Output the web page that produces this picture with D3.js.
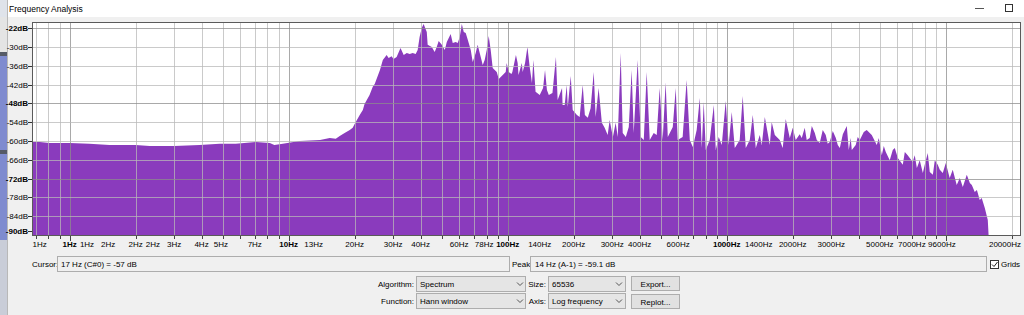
<!DOCTYPE html>
<html>
<head>
<meta charset="utf-8">
<script src="https://cdnjs.cloudflare.com/ajax/libs/d3/7.8.5/d3.min.js"></script>
<style>
  body { margin: 0; background: #f0f0f0; }
  svg { display: block; font-family: "Liberation Sans", Arial, sans-serif; }
</style>
</head>
<body>
<svg width="1024" height="315"></svg>
<script>
// Spectrum: frequency (Hz) and level (dB)
const freqHz = [0.67, 0.73, 0.81, 1.0, 1.23, 1.52, 2.0, 2.32, 3.0, 3.92, 4.84, 5.73, 7.07, 8.2, 8.6, 9.4, 11.2, 13.9, 15.4, 16.4,
  17.1, 18.0, 19.0, 19.6, 20.0, 21.1, 21.8, 22.2, 23.4, 24.2, 24.7, 26.1, 26.9, 28.0, 28.6, 29.5, 30.1, 31.1, 32.4, 33.5,
  34.6, 35.7, 36.8, 38.0, 38.8, 39.6, 40.5, 41.3, 42.7, 43.1, 45.0, 46.4, 47.4, 48.4, 50.0, 51.6, 52.7, 54.9, 56.1, 57.9,
  59.1, 60.4, 61.7, 63.0, 64.3, 65.7, 67.8, 69.2, 71.4, 72.9, 74.5, 76.9, 78.5, 80.2, 81.9, 83.6, 85.4, 89.1, 91.0, 94.9,
  97.9, 98.9, 101, 104, 105, 109, 111, 112, 116, 117, 120, 123, 126, 129, 131, 134, 140, 145, 148, 151,
  154, 160, 166, 169, 177, 178, 182, 186, 188, 194, 198, 207, 213, 220, 225, 232, 239, 247, 252, 260,
  269, 277, 286, 292, 302, 311, 318, 328, 335, 346, 357, 368, 376, 392, 405, 418, 431, 445, 464, 479,
  494, 510, 526, 538, 567, 585, 597, 629, 656, 678, 700, 729, 753, 769, 785, 802, 836, 873, 891, 919,
  949, 989, 1020, 1054, 1088, 1146, 1183, 1221, 1274, 1315, 1357, 1415, 1445, 1492, 1572, 1604, 1657, 1746, 1801, 1859,
  1940, 2002, 2065, 2153, 2200, 2270, 2318, 2392, 2445, 2523, 2576, 2658, 2743, 2831, 2891, 2953, 3048, 3148, 3213, 3282,
  3388, 3532, 3607, 3680, 3723, 3880, 3963, 4049, 4223, 4355, 4592, 4842, 4944, 5104, 5211, 5322, 5548, 5727, 5850, 6040,
  6363, 6500, 6700, 7063, 7216, 7379, 7605, 7857, 8017, 8276, 8450, 8730, 8909, 9190, 9390, 9690, 10000, 10420, 10760, 11220,
  11590, 11960, 12470, 12880, 13150, 13560, 13870, 14290, 14590, 15070, 15550, 15710];
const levelDb = [-60.3, -60.3, -60.6, -60.6, -60.9, -61.3, -61.3, -61.6, -61.6, -61.3, -60.9, -60.9, -60.3, -60.6, -61.3, -60.9, -60.0, -59.7, -59.0, -59.3,
  -58.4, -57.4, -56.5, -55.8, -54.6, -51.7, -50.1, -48.2, -45.3, -42.7, -41.8, -37.3, -34.1, -32.5, -33.5, -32.9, -33.8, -33.2, -30.3, -32.5,
  -31.9, -32.2, -31.9, -32.2, -30.9, -26.8, -23.9, -22.6, -25.2, -29.3, -30.0, -31.6, -30.0, -28.1, -29.3, -30.9, -28.4, -25.8, -28.7, -28.4,
  -28.7, -26.8, -22.6, -25.2, -25.5, -27.7, -30.9, -34.8, -31.9, -29.3, -31.9, -35.7, -34.1, -30.9, -26.5, -30.9, -36.7, -38.0, -40.2, -38.9,
  -38.0, -35.1, -38.0, -38.6, -38.0, -32.5, -35.1, -38.9, -35.1, -38.0, -35.1, -30.0, -36.4, -41.5, -34.1, -44.3, -45.3, -43.1, -37.3, -43.7,
  -45.3, -44.7, -33.2, -46.9, -43.1, -48.5, -48.5, -42.1, -49.1, -39.2, -50.1, -51.7, -52.3, -42.1, -51.7, -52.6, -49.5, -38.0, -52.3, -43.1,
  -54.2, -55.8, -58.1, -53.3, -58.7, -54.2, -58.7, -31.9, -57.4, -58.7, -55.5, -37.3, -57.4, -34.1, -58.7, -59.7, -38.0, -59.7, -57.4, -58.1,
  -43.1, -59.7, -41.2, -58.7, -55.5, -43.1, -59.7, -58.7, -40.5, -59.7, -61.9, -56.5, -46.3, -62.2, -47.5, -62.9, -59.7, -48.5, -62.9, -58.7,
  -61.3, -47.2, -61.3, -50.7, -62.2, -59.7, -45.6, -62.2, -59.7, -51.7, -62.2, -58.1, -61.3, -52.3, -61.3, -53.9, -58.1, -59.7, -62.2, -53.0,
  -59.0, -55.8, -59.7, -57.8, -59.0, -55.8, -59.7, -59.0, -55.2, -57.4, -59.7, -60.6, -56.5, -58.1, -60.9, -60.3, -56.8, -59.0, -61.3, -62.2,
  -57.8, -55.2, -62.9, -59.0, -62.9, -61.3, -58.7, -59.7, -57.1, -56.5, -58.1, -61.3, -59.0, -64.5, -61.6, -63.5, -66.1, -62.9, -62.2, -65.4,
  -67.6, -63.5, -64.5, -66.7, -64.5, -68.6, -66.1, -70.2, -67.6, -63.8, -69.9, -70.8, -66.1, -67.6, -69.2, -70.2, -67.0, -71.8, -69.2, -74.0,
  -71.8, -74.7, -70.8, -73.4, -74.0, -76.3, -75.6, -78.8, -78.2, -81.4, -85.2, -91];

// Axis ticks
const yTickDb = [-22, -30, -36, -42, -48, -54, -60, -66, -72, -78, -84, -90];
const yBoldDb = [-22, -48, -72, -90];
const yGridDb = [-24, -30, -36, -42, -48, -54, -60, -66, -72, -78, -84];
const yMajorDb = [-24, -48, -72];
const xTickHz = [0.73, 1, 1.2, 1.5, 2, 2.4, 3, 4, 4.9, 7, 10, 13, 20, 30, 40, 60, 78, 100, 140, 200, 300, 400, 600,
  1000, 1400, 2000, 3000, 5000, 7000, 9600, 20000];
const xTickLabels = ["1Hz", "1Hz", "1Hz", "2Hz", "2Hz", "2Hz", "3Hz", "4Hz", "5Hz", "7Hz", "10Hz", "13Hz", "20Hz", "30Hz",
  "40Hz", "60Hz", "78Hz", "100Hz", "140Hz", "200Hz", "300Hz", "400Hz", "600Hz", "1000Hz", "1400Hz", "2000Hz", "3000Hz",
  "5000Hz", "7000Hz", "9600Hz", "20000Hz"];
const xBoldHz = [1, 10, 100, 1000];

const svg = d3.select("svg");
const plotL = 32, plotR = 1021, plotT = 22, plotB = 235;

const x = d3.scaleLog().domain([0.673, 22050]).range([plotL, plotR]);
const y = d3.scaleLinear().domain([-90, -22]).range([plotB, plotT]);

// Window chrome: title bar and a sliver of the window behind
svg.append("rect").attr("x", 0).attr("y", 0).attr("width", 1024).attr("height", 17).attr("fill", "#ffffff");
svg.append("text").attr("x", 9).attr("y", 12).attr("font-size", "8.5px").attr("fill", "#000").text("Frequency Analysis");
svg.append("line").attr("x1", 975).attr("x2", 984).attr("y1", 8.5).attr("y2", 8.5).attr("stroke", "#555");
svg.append("rect").attr("x", 1005.5).attr("y", 4.5).attr("width", 7).attr("height", 7)
  .attr("fill", "none").attr("stroke", "#333");

const behind = [[0, 17, "#dfe3ea"], [17, 35, "#e4e4e4"], [52, 4, "#555a66"], [56, 94, "#7f8bcf"],
  [150, 4, "#555a66"], [154, 86, "#7f8bcf"], [240, 75, "#c9cdd8"]];
behind.forEach(b => {
  svg.append("rect").attr("x", 0).attr("y", b[0]).attr("width", 7).attr("height", b[1]).attr("fill", b[2]);
});
svg.append("line").attr("x1", 7.5).attr("x2", 7.5).attr("y1", 0).attr("y2", 315).attr("stroke", "#b8b8b8");

// Plot background
svg.append("rect").attr("x", plotL).attr("y", plotT).attr("width", plotR - plotL).attr("height", plotB - plotT)
  .attr("fill", "#ffffff");

svg.append("clipPath").attr("id", "plotClip")
  .append("rect").attr("x", plotL).attr("y", plotT).attr("width", plotR - plotL).attr("height", plotB - plotT);

// Spectrum fill
const spectrum = freqHz.map((f, i) => ({ f: f, db: levelDb[i] }));
const area = d3.area()
  .x(d => x(d.f))
  .y0(plotB)
  .y1(d => y(Math.max(d.db, -91)));

svg.append("path")
  .datum(spectrum)
  .attr("clip-path", "url(#plotClip)")
  .attr("fill", "#8a3bbd")
  .attr("d", area);

// Grid lines over the spectrum
const gridHz = [];
for (let p = -1; p <= 4; p++) {
  for (let k = 1; k <= 9; k++) {
    const v = k * Math.pow(10, p);
    if (v > 0.673 && v < 22050) gridHz.push(v);
  }
}
const isDecade = d => Math.abs(Math.log10(d) - Math.round(Math.log10(d))) < 1e-9;

const grid = svg.append("g").attr("clip-path", "url(#plotClip)");
grid.selectAll("line.vg")
  .data(gridHz)
  .enter().append("line")
  .attr("x1", d => Math.round(x(d)) + 0.5)
  .attr("x2", d => Math.round(x(d)) + 0.5)
  .attr("y1", plotT).attr("y2", plotB)
  .attr("stroke", d => isDecade(d) ? "#8c8c8c" : "#b8b8b8")
  .attr("stroke-opacity", 0.75);

grid.selectAll("line.hg")
  .data(yGridDb)
  .enter().append("line")
  .attr("x1", plotL).attr("x2", plotR)
  .attr("y1", d => Math.round(y(d)) + 0.5)
  .attr("y2", d => Math.round(y(d)) + 0.5)
  .attr("stroke", d => yMajorDb.includes(d) ? "#8c8c8c" : "#b8b8b8")
  .attr("stroke-opacity", 0.75);

// Frame
svg.append("rect").attr("x", plotL + 0.5).attr("y", plotT + 0.5)
  .attr("width", plotR - plotL - 1).attr("height", plotB - plotT)
  .attr("fill", "none").attr("stroke", "#5a5a5a");

// Y axis labels (clamped inside the ruler like Audacity does)
yTickDb.forEach(v => {
  const yy = Math.max(28, Math.min(231, y(v)));
  svg.append("line").attr("x1", 28).attr("x2", plotL).attr("y1", Math.round(yy) + 0.5).attr("y2", Math.round(yy) + 0.5)
    .attr("stroke", "#333");
  svg.append("text")
    .attr("x", 28).attr("y", yy + 3)
    .attr("text-anchor", "end")
    .attr("font-size", "8px")
    .attr("font-weight", yBoldDb.includes(v) ? "bold" : "normal")
    .attr("fill", "#000")
    .text(v + "dB");
});

// X axis ticks and labels
const ticks = svg.append("g");
ticks.selectAll("line")
  .data(gridHz.concat([20000]))
  .enter().append("line")
  .attr("x1", d => Math.round(x(d)) + 0.5)
  .attr("x2", d => Math.round(x(d)) + 0.5)
  .attr("y1", plotB + 1)
  .attr("y2", d => isDecade(d) ? plotB + 6 : plotB + 4)
  .attr("stroke", "#444");

ticks.selectAll("text")
  .data(xTickHz)
  .enter().append("text")
  .attr("x", d => x(d))
  .attr("y", 247)
  .attr("text-anchor", "middle")
  .attr("font-size", "8px")
  .attr("font-weight", d => xBoldHz.includes(d) ? "bold" : "normal")
  .attr("fill", "#000")
  .text((d, i) => xTickLabels[i])
  .each(function () {
    // keep the last label inside the window, as the ruler does
    const w = this.getComputedTextLength();
    const cx = +this.getAttribute("x");
    if (cx + w / 2 > 1021) this.setAttribute("x", 1021 - w / 2);
  });

// Controls under the plot
function box(bx, by, w, h, fill) {
  svg.append("rect").attr("x", bx + 0.5).attr("y", by + 0.5).attr("width", w).attr("height", h)
    .attr("fill", fill).attr("stroke", "#adadad");
}
function label(tx, ty, s, anchor) {
  svg.append("text").attr("x", tx).attr("y", ty).attr("font-size", "8px")
    .attr("text-anchor", anchor || "start").attr("fill", "#000").text(s);
}
function chevron(cx, cy) {
  svg.append("polyline")
    .attr("points", [[cx - 3, cy - 1.5], [cx, cy + 1.5], [cx + 3, cy - 1.5]].join(" "))
    .attr("fill", "none").attr("stroke", "#555");
}

label(32, 267, "Cursor:");
box(57, 256, 452, 15, "#f0f0f0");
label(61, 267, "17 Hz (C#0) = -57 dB");

label(512, 267, "Peak:");
box(530, 256, 456, 15, "#f0f0f0");
label(535, 267, "14 Hz (A-1) = -59.1 dB");

svg.append("rect").attr("x", 990.5).attr("y", 260.5).attr("width", 8).attr("height", 8)
  .attr("fill", "#fff").attr("stroke", "#333");
svg.append("polyline").attr("points", "992,264.5 994,266.5 997.5,262")
  .attr("fill", "none").attr("stroke", "#222");
label(1001, 267, "Grids");

label(414, 287, "Algorithm:", "end");
box(416, 276, 109, 15, "#e5e5e5");
label(420, 287, "Spectrum");
chevron(520, 284);

label(414, 304, "Function:", "end");
box(416, 293, 109, 15, "#e5e5e5");
label(420, 304, "Hann window");
chevron(520, 301);

label(546, 287, "Size:", "end");
box(548, 276, 77, 15, "#e5e5e5");
label(552, 287, "65536");
chevron(619, 284);

label(546, 304, "Axis:", "end");
box(548, 293, 77, 15, "#e5e5e5");
label(552, 304, "Log frequency");
chevron(619, 301);

box(631, 276, 48, 14, "#e1e1e1");
label(655.5, 287, "Export...", "middle");
box(631, 294, 48, 14, "#e1e1e1");
label(655.5, 305, "Replot...", "middle");
</script>
</body>
</html>
